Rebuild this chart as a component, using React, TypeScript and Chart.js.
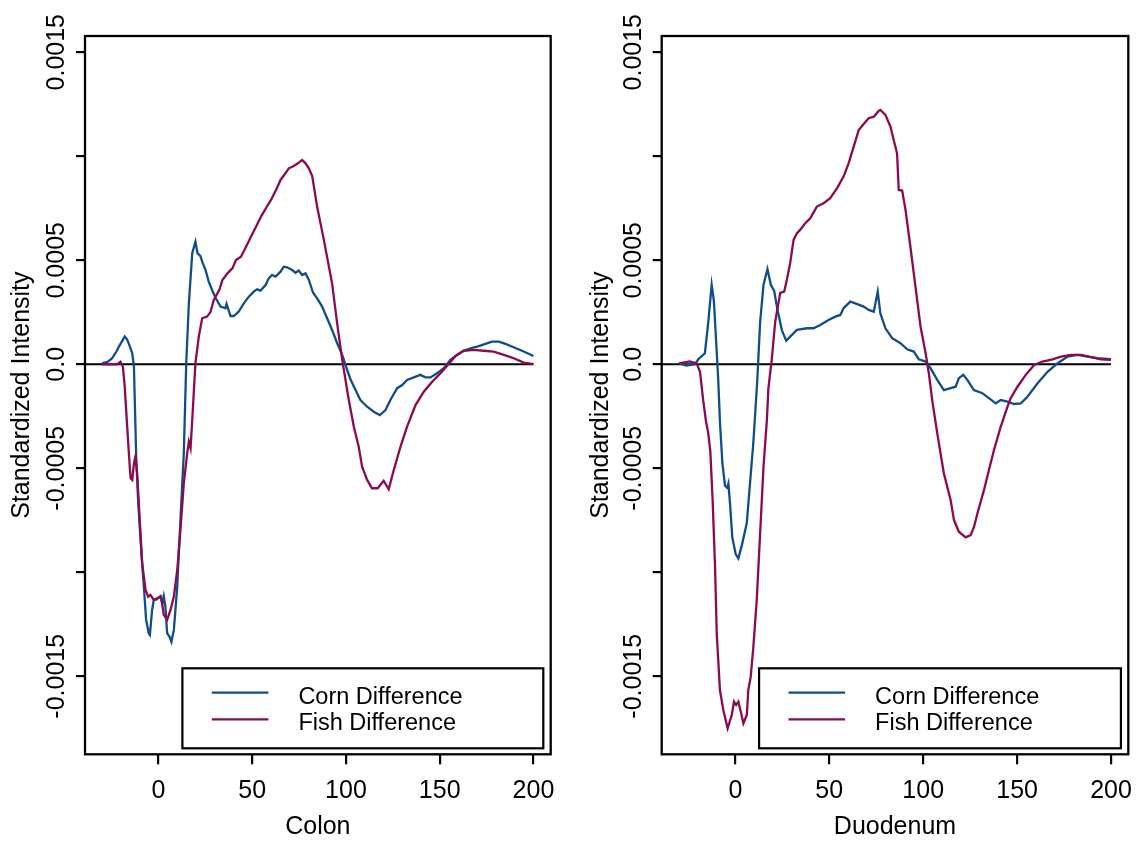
import React, { useEffect, useRef } from 'react';
import { Chart, registerables } from 'chart.js';

Chart.register(...registerables);

// ---------- data ----------
const colonCornX = [-30, -27, -24.7, -22.5, -21.1, -19.5, -18, -16.8, -15.8, -14.0, -13.1, -11.9, -10.8, -9.1, -7.8, -6.6, -5.2, -4.6, -3.4, -2.5, -1, 1.1, 2.0, 2.8, 3.7, 4.6, 5.9, 6.9, 8.2, 10, 11.7, 13.5, 14.8, 16.2, 18, 19.7, 20.8, 22.4, 23.3, 25.1, 26.8, 28.6, 30.4, 33.1, 35.7, 36.3, 38.4, 40.2, 42.8, 45.5, 48.2, 50.8, 52.6, 54.4, 57.1, 58.8, 60.6, 62.4, 65.1, 66.8, 68.6, 71.3, 73.1, 74.8, 76.6, 78.4, 80.2, 82.4, 84.6, 87.3, 90, 92.6, 95.3, 98, 100.6, 102.4, 105.1, 107.7, 111.3, 114.8, 118, 121.1, 123.7, 127.3, 130, 132.6, 136.2, 139.7, 142.4, 145.1, 148.6, 152.2, 155.7, 159.3, 162.8, 166.4, 170, 174.4, 177.9, 181.5, 185.1, 189.4, 193.9, 200];
const colonCornY = [0.05e-4, 0.12e-4, 0.29e-4, 0.6e-4, 0.85e-4, 1.1e-4, 1.33e-4, 1.2e-4, 0.98e-4, 0.53e-4, -0.11e-4, -4.44e-4, -6.68e-4, -9.09e-4, -10.69e-4, -12.29e-4, -12.93e-4, -13.01e-4, -11.81e-4, -11.33e-4, -11.3e-4, -11.14e-4, -11.5e-4, -11.14e-4, -11.65e-4, -12.93e-4, -13.1e-4, -13.34e-4, -12.77e-4, -10.69e-4, -7.49e-4, -4.28e-4, 0.05e-4, 2.93e-4, 5.34e-4, 5.89e-4, 5.34e-4, 5.2e-4, 4.93e-4, 4.53e-4, 3.97e-4, 3.57e-4, 3.2e-4, 2.77e-4, 2.69e-4, 2.9e-4, 2.32e-4, 2.32e-4, 2.53e-4, 2.93e-4, 3.25e-4, 3.49e-4, 3.6e-4, 3.54e-4, 3.81e-4, 4.13e-4, 4.29e-4, 4.21e-4, 4.45e-4, 4.69e-4, 4.66e-4, 4.53e-4, 4.4e-4, 4.5e-4, 4.29e-4, 4.37e-4, 4.05e-4, 3.45e-4, 3.17e-4, 2.77e-4, 2.2e-4, 1.65e-4, 1.01e-4, 0.45e-4, -0.27e-4, -0.72e-4, -1.24e-4, -1.72e-4, -2.04e-4, -2.28e-4, -2.44e-4, -2.2e-4, -1.72e-4, -1.15e-4, -1.0e-4, -0.75e-4, -0.63e-4, -0.51e-4, -0.63e-4, -0.63e-4, -0.43e-4, -0.19e-4, 0.21e-4, 0.45e-4, 0.65e-4, 0.77e-4, 0.85e-4, 0.98e-4, 1.09e-4, 1.09e-4, 0.98e-4, 0.82e-4, 0.65e-4, 0.4e-4];

const colonFishX = [-30, -22, -20.3, -19, -18, -16.7, -15.8, -14.9, -14.0, -13.1, -12.3, -11.4, -10, -8.7, -6.9, -5.5, -4.3, -2.5, -0.7, 1.1, 2.0, 2.8, 4.6, 6.4, 8.2, 10, 11.7, 13.5, 15.3, 16.2, 17.1, 18, 19.7, 21.5, 23.3, 25.9, 27.7, 29.5, 32.4, 34.1, 36.8, 39.5, 41.3, 44, 46.7, 49.3, 52, 54.7, 57.3, 60, 62.7, 65.1, 67.7, 69.5, 72.2, 74.3, 76.6, 78.4, 80.2, 82, 84.6, 88.2, 92.6, 95.3, 98, 101.5, 104.2, 106.8, 108.6, 111.3, 113.9, 116.9, 120.1, 122.8, 125.5, 129.1, 132.6, 137.1, 141.5, 146, 150.4, 154.8, 158.4, 162.8, 168.2, 173.5, 178.8, 184.2, 189.5, 194.8, 200];
const colonFishY = [0, 0, 0.12e-4, -0.11e-4, -1.08e-4, -3.0e-4, -4.28e-4, -5.48e-4, -5.56e-4, -4.76e-4, -4.44e-4, -5.24e-4, -7.49e-4, -9.57e-4, -10.85e-4, -11.17e-4, -11.09e-4, -11.33e-4, -11.25e-4, -11.17e-4, -11.5e-4, -12.05e-4, -12.29e-4, -11.81e-4, -11.17e-4, -9.89e-4, -7.97e-4, -5.72e-4, -4.28e-4, -3.72e-4, -4.04e-4, -2.68e-4, 0.05e-4, 1.33e-4, 2.21e-4, 2.29e-4, 2.5e-4, 3.09e-4, 3.57e-4, 4.05e-4, 4.37e-4, 4.62e-4, 5.01e-4, 5.17e-4, 5.65e-4, 6.13e-4, 6.61e-4, 7.1e-4, 7.5e-4, 7.9e-4, 8.38e-4, 8.86e-4, 9.18e-4, 9.42e-4, 9.53e-4, 9.66e-4, 9.82e-4, 9.66e-4, 9.42e-4, 9.05e-4, 7.58e-4, 5.98e-4, 3.89e-4, 1.97e-4, 0.21e-4, -1.72e-4, -3.0e-4, -3.96e-4, -4.92e-4, -5.56e-4, -5.96e-4, -5.96e-4, -5.6e-4, -6.01e-4, -5.08e-4, -3.96e-4, -3.0e-4, -1.96e-4, -1.32e-4, -0.84e-4, -0.43e-4, 0.01e-4, 0.4e-4, 0.65e-4, 0.69e-4, 0.65e-4, 0.61e-4, 0.45e-4, 0.29e-4, 0.08e-4, 0.01e-4];

const duoCornX = [-30, -26, -21.5, -19.7, -16.2, -14.4, -12.6, -11.4, -10.3, -9.1, -8.2, -6.9, -5.5, -4.3, -3.7, -2.8, -1.6, 0.2, 1.6, 3.4, 6.1, 7.8, 9.6, 11.7, 13.2, 15, 17.1, 18.9, 20.7, 22.4, 24.8, 27.1, 29.2, 32.8, 38.1, 41.6, 45.2, 49.6, 53.2, 55.9, 57.6, 61.2, 63.9, 68.3, 71, 73.7, 75.8, 77.2, 79.9, 83.5, 87.9, 91.5, 95, 97.7, 101.3, 103.9, 107.5, 111, 114.6, 117.3, 119, 121.4, 123.5, 127, 131.5, 135, 138.6, 141.3, 144.9, 148.4, 152, 155.5, 160.9, 166.2, 171.6, 176.9, 182.2, 187.6, 192.9, 200];
const duoCornY = [0.04e-4, -0.06e-4, 0, 0.24e-4, 0.53e-4, 2.03e-4, 3.82e-4, 3.02e-4, 1.24e-4, -0.75e-4, -2.75e-4, -4.75e-4, -5.84e-4, -5.94e-4, -5.74e-4, -6.74e-4, -8.33e-4, -9.13e-4, -9.33e-4, -8.73e-4, -7.63e-4, -5.74e-4, -3.75e-4, -0.75e-4, 2.03e-4, 3.82e-4, 4.58e-4, 3.82e-4, 3.52e-4, 2.63e-4, 1.63e-4, 1.13e-4, 1.33e-4, 1.65e-4, 1.73e-4, 1.73e-4, 1.89e-4, 2.13e-4, 2.29e-4, 2.37e-4, 2.69e-4, 3.01e-4, 2.93e-4, 2.77e-4, 2.61e-4, 2.53e-4, 3.49e-4, 2.45e-4, 1.73e-4, 1.25e-4, 1.01e-4, 0.72e-4, 0.61e-4, 0.24e-4, 0.13e-4, -0.19e-4, -0.75e-4, -1.24e-4, -1.15e-4, -1.08e-4, -0.67e-4, -0.51e-4, -0.75e-4, -1.24e-4, -1.39e-4, -1.63e-4, -1.88e-4, -1.72e-4, -1.8e-4, -1.91e-4, -1.88e-4, -1.56e-4, -0.91e-4, -0.36e-4, 0.05e-4, 0.37e-4, 0.45e-4, 0.37e-4, 0.29e-4, 0.24e-4];

const duoFishX = [-30, -24.2, -20.6, -18.8, -17.1, -15.6, -14.4, -13.3, -12.1, -10.8, -9.9, -8.2, -6.4, -4.1, -1.9, -0.7, 0.4, 1.6, 2.9, 4.3, 6.1, 6.9, 8.2, 9.6, 11.4, 13.2, 15, 16.8, 17.6, 19.4, 21.2, 23.9, 26, 27.4, 29.2, 31, 32.8, 34.5, 37.2, 39.9, 43.4, 47, 50.5, 54.1, 57.6, 60.3, 63, 65.7, 68.3, 71, 73.7, 76.3, 77.2, 79.9, 82.6, 84.3, 86.1, 87, 88.8, 90.6, 93.2, 95.9, 98.6, 101.3, 103, 104.8, 107.5, 111, 114.6, 116.4, 119, 122.6, 125.3, 127.1, 128.9, 132.4, 135, 137.7, 141.3, 144.9, 146.6, 150.2, 154.6, 159.1, 163.5, 168.9, 173.3, 178.7, 184, 189.3, 194.6, 200];
const duoFishY = [0.04e-4, 0.14e-4, 0.04e-4, -0.36e-4, -1.75e-4, -2.75e-4, -3.32e-4, -4.2e-4, -6.52e-4, -9.73e-4, -12.93e-4, -15.66e-4, -16.62e-4, -17.5e-4, -16.86e-4, -16.22e-4, -16.38e-4, -16.22e-4, -16.7e-4, -17.26e-4, -16.86e-4, -15.66e-4, -15.02e-4, -13.58e-4, -11.33e-4, -8.13e-4, -4.92e-4, -2.68e-4, -1.16e-4, 0.24e-4, 2.03e-4, 3.43e-4, 3.49e-4, 4.05e-4, 4.86e-4, 5.98e-4, 6.3e-4, 6.46e-4, 6.78e-4, 7.02e-4, 7.58e-4, 7.74e-4, 7.98e-4, 8.46e-4, 9.02e-4, 9.66e-4, 10.46e-4, 11.26e-4, 11.55e-4, 11.83e-4, 11.9e-4, 12.18e-4, 12.23e-4, 11.99e-4, 11.42e-4, 10.78e-4, 10.14e-4, 8.38e-4, 8.35e-4, 7.42e-4, 5.65e-4, 3.73e-4, 1.81e-4, 0.53e-4, -0.43e-4, -1.72e-4, -3.32e-4, -5.24e-4, -6.52e-4, -7.49e-4, -8.05e-4, -8.32e-4, -8.21e-4, -7.81e-4, -7.16e-4, -6.04e-4, -5.08e-4, -4.12e-4, -3.0e-4, -2.04e-4, -1.63e-4, -1.08e-4, -0.51e-4, -0.03e-4, 0.13e-4, 0.24e-4, 0.37e-4, 0.45e-4, 0.45e-4, 0.34e-4, 0.24e-4, 0.21e-4];

const zeroLineX = [-45, 200];
const zeroLineY = [0, 0];

const xTickValues = [0, 50, 100, 150, 200];
const yTickValues = [-0.0015, -0.001, -0.0005, 0, 0.0005, 0.001, 0.0015];
const yTickLabels = ['-0.0015', '', '-0.0005', '0.0', '0.0005', '', '0.0015'];
const seriesNames = ['Corn Difference', 'Fish Difference'];
const seriesColors = ['#104E8B', '#8B0A50'];
const yAxisTitle = 'Standardized Intensity';

const FONT = "'Liberation Sans', Arial, Helvetica, sans-serif";
const LINE_W = 2.3;

const toPoints = (xs: number[], ys: number[]) => xs.map((x, i) => ({ x, y: ys[i] }));

const framePlugin = {
  id: 'frameAndLegend',
  afterDraw(chart: any) {
    const { ctx, chartArea: a } = chart;
    ctx.save();
    // plot frame
    ctx.strokeStyle = '#000';
    ctx.lineWidth = 2.3;
    ctx.strokeRect(a.left, a.top, a.right - a.left, a.bottom - a.top);
    // legend box
    const left = a.left + 97.4;
    const right = a.right - 7.4;
    const top = a.bottom - 86;
    const bottom = a.bottom - 6;
    ctx.fillStyle = '#fff';
    ctx.fillRect(left, top, right - left, bottom - top);
    ctx.lineWidth = 2.2;
    ctx.strokeRect(left, top, right - left, bottom - top);
    ctx.font = `23.5px ${FONT}`;
    ctx.textBaseline = 'middle';
    ctx.textAlign = 'left';
    for (let i = 0; i < seriesNames.length; i++) {
      const y = top + 24.4 + i * 26.6;
      ctx.strokeStyle = seriesColors[i];
      ctx.lineWidth = LINE_W;
      ctx.beginPath();
      ctx.moveTo(left + 29.4, y);
      ctx.lineTo(left + 86, y);
      ctx.stroke();
      ctx.fillStyle = '#000';
      ctx.fillText(seriesNames[i], left + 116, y + 4.5);
    }
    ctx.restore();
  },
};

type PanelProps = {
  left: number;
  yAxisWidth: number;
  rightPad: number;
  yTitlePad: number;
  title: string;
  cornX: number[];
  cornY: number[];
  fishX: number[];
  fishY: number[];
};

function Panel(p: PanelProps) {
  const ref = useRef<HTMLCanvasElement | null>(null);
  useEffect(() => {
    if (!ref.current) return;
    const chart = new Chart(ref.current, {
      type: 'line',
      data: {
        datasets: [
          {
            label: seriesNames[0],
            data: toPoints(p.cornX, p.cornY),
            borderColor: seriesColors[0],
            borderWidth: LINE_W,
            pointRadius: 0,
            tension: 0,
            fill: false,
            order: 2,
          },
          {
            label: seriesNames[1],
            data: toPoints(p.fishX, p.fishY),
            borderColor: seriesColors[1],
            borderWidth: LINE_W,
            pointRadius: 0,
            tension: 0,
            fill: false,
            order: 1,
          },
          {
            label: 'zero',
            data: toPoints(zeroLineX, zeroLineY),
            borderColor: '#000',
            borderWidth: 2.2,
            pointRadius: 0,
            tension: 0,
            fill: false,
            order: 3,
          },
        ],
      },
      options: {
        responsive: false,
        animation: false,
        devicePixelRatio: 1,
        layout: { padding: { left: 0, top: 36, right: p.rightPad, bottom: 0 } },
        plugins: { legend: { display: false }, tooltip: { enabled: false } },
        scales: {
          x: {
            type: 'linear',
            min: -39.2,
            max: 209.2,
            afterBuildTicks: (s: any) => {
              s.ticks = xTickValues.map((v) => ({ value: v }));
            },
            afterFit: (s: any) => {
              s.height = 87.7;
            },
            ticks: {
              font: { family: FONT, size: 25 },
              color: '#000',
              padding: 12,
              maxRotation: 0,
              autoSkip: false,
              callback: (v: any) => String(v),
            },
            grid: {
              display: true,
              drawOnChartArea: false,
              drawTicks: true,
              tickLength: 10,
              tickWidth: 2.2,
              tickColor: '#000',
              lineWidth: 2.2,
              color: '#000',
            },
            border: { display: false },
            title: {
              display: true,
              text: p.title,
              color: '#000',
              font: { family: FONT, size: 25 },
              padding: { top: 0, bottom: 0 },
            },
          },
          y: {
            type: 'linear',
            min: -0.001875,
            max: 0.001578,
            afterBuildTicks: (s: any) => {
              s.ticks = yTickValues.map((v) => ({ value: v }));
            },
            afterFit: (s: any) => {
              s.width = p.yAxisWidth;
            },
            ticks: {
              font: { family: FONT, size: 25 },
              color: '#000',
              minRotation: 90,
              maxRotation: 90,
              crossAlign: 'center',
              padding: -23.4,
              autoSkip: false,
              callback: (_v: any, i: number) => yTickLabels[i],
            },
            grid: {
              display: true,
              drawOnChartArea: false,
              drawTicks: true,
              tickLength: 9,
              tickWidth: 2.2,
              tickColor: '#000',
              lineWidth: 2.2,
              color: '#000',
            },
            border: { display: false },
            title: {
              display: true,
              text: yAxisTitle,
              color: '#000',
              font: { family: FONT, size: 25 },
              padding: { top: p.yTitlePad, bottom: 0 },
            },
          },
        },
      } as any,
      plugins: [framePlugin],
    });
    return () => chart.destroy();
  }, []);
  return (
    <canvas
      ref={ref}
      width={600}
      height={842}
      style={{ position: 'absolute', left: p.left, top: 0, width: 600, height: 842 }}
    />
  );
}

export default function App() {
  return (
    <div
      style={{
        position: 'fixed',
        left: 0,
        top: 0,
        width: 1136,
        height: 842,
        overflow: 'hidden',
        background: '#fff',
      }}
    >
      <Panel left={0} yAxisWidth={85} rightPad={49.3} yTitlePad={7} title="Colon" cornX={colonCornX} cornY={colonCornY} fishX={colonFishX} fishY={colonFishY} />
      <Panel left={568} yAxisWidth={93.7} rightPad={39.7} yTitlePad={17.8} title="Duodenum" cornX={duoCornX} cornY={duoCornY} fishX={duoFishX} fishY={duoFishY} />
    </div>
  );
}
